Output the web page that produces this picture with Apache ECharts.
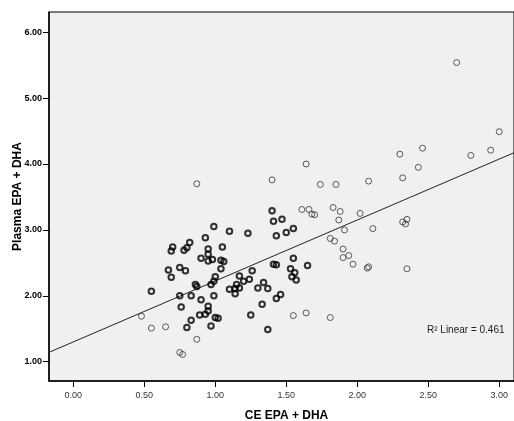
<!DOCTYPE html>
<html>
<head>
<meta charset="utf-8">
<script src="https://cdn.jsdelivr.net/npm/echarts@6/dist/echarts.min.js"></script>
<style>
html,body{margin:0;padding:0;background:#fff;}
#c{width:514px;height:421px;}
</style>
</head>
<body>
<div id="c"></div>
<script>
// CE EPA + DHA (x) and Plasma EPA + DHA (y), points drawn with thin outline
const thinX = [2.70,3.00,2.30,2.46,2.80,2.94,2.43,2.32,2.08,1.85,1.74,1.64,1.40,0.87,1.83,1.88,2.02,1.87,1.91,2.11,2.32,2.35,2.34,1.81,1.84,1.90,1.90,1.94,1.97,2.07,2.08,2.35,1.61,1.66,1.68,1.70,1.55,1.64,1.81,0.48,0.55,0.65,0.87,0.75,0.77];
const thinY = [5.54,4.49,4.15,4.24,4.13,4.21,3.95,3.79,3.74,3.69,3.69,4.00,3.76,3.70,3.34,3.28,3.25,3.15,3.00,3.02,3.12,3.16,3.09,2.87,2.83,2.71,2.58,2.61,2.48,2.42,2.44,2.41,3.31,3.31,3.24,3.23,1.70,1.74,1.67,1.69,1.51,1.53,1.34,1.14,1.11];
// points drawn with heavy outline
const boldX = [1.40,1.41,1.47,1.55,1.50,1.43,1.10,1.23,0.99,0.93,1.05,0.70,0.69,0.82,0.80,0.78,0.95,0.95,0.90,0.95,0.98,1.04,1.06,1.55,1.41,1.43,1.53,1.65,1.56,1.54,1.57,1.04,1.26,1.17,1.24,1.20,1.15,1.10,1.14,1.17,1.14,1.34,1.30,1.37,1.46,1.43,1.33,1.25,1.37,0.67,0.75,0.79,0.69,1.00,0.99,0.97,0.86,0.87,0.55,0.75,0.83,0.90,0.99,0.76,0.95,0.95,0.89,0.93,1.00,1.02,0.83,0.80,0.97];
const boldY = [3.29,3.13,3.16,3.02,2.96,2.91,2.98,2.95,3.05,2.88,2.74,2.74,2.68,2.81,2.73,2.69,2.71,2.63,2.57,2.53,2.55,2.54,2.52,2.57,2.48,2.47,2.41,2.46,2.35,2.29,2.24,2.41,2.38,2.30,2.25,2.22,2.17,2.10,2.11,2.12,2.03,2.20,2.12,2.11,2.02,1.96,1.87,1.71,1.49,2.39,2.43,2.38,2.28,2.29,2.22,2.17,2.17,2.14,2.07,2.00,2.00,1.94,2.00,1.83,1.84,1.77,1.71,1.72,1.67,1.66,1.63,1.52,1.54];
// fit line
const fitIntercept = 1.30;
const fitSlope = 0.925;
const r2Text = 'R\u00b2 Linear = 0.461';
// ticks
const xTicks = [0, 0.5, 1.0, 1.5, 2.0, 2.5, 3.0];
const yTicks = [1, 2, 3, 4, 5, 6];

const xMin = -0.171, xMax = 3.104, yMin = 0.707, yMax = 6.307;
const FONT = '"Liberation Sans", Arial, sans-serif';

const thinData = thinX.map((x, i) => [x, thinY[i]]);
const boldData = boldX.map((x, i) => [x, boldY[i]]);
const lineData = [[xMin, fitIntercept + fitSlope * xMin], [xMax, fitIntercept + fitSlope * xMax]];

const chart = echarts.init(document.getElementById('c'), null, {renderer: 'canvas'});
chart.setOption({
  animation: false,
  backgroundColor: '#ffffff',
  grid: {left: 49, top: 12, right: 0, bottom: 40, containLabel: false, outerBoundsMode: 'none',
    show: true, backgroundColor: '#f0f0f0', borderColor: '#000', borderWidth: 1},
  xAxis: {
    type: 'value', min: xMin, max: xMax,
    name: 'CE EPA + DHA', nameLocation: 'middle', nameGap: 29, nameMoveOverlap: false,
    nameTextStyle: {fontFamily: FONT, fontWeight: 'bold', fontSize: 12, color: '#000', padding: [0, 0, 0, 10]},
    axisLine: {show: true, onZero: false, lineStyle: {color: '#000', width: 1.5}},
    axisTick: {show: true, customValues: xTicks, length: 6, lineStyle: {color: '#000'}},
    axisLabel: {customValues: xTicks, fontFamily: FONT, fontSize: 9, color: '#333', margin: 10,
      formatter: v => v.toFixed(2)},
    splitLine: {show: false}
  },
  yAxis: {
    type: 'value', min: yMin, max: yMax,
    name: 'Plasma EPA + DHA', nameLocation: 'middle', nameGap: 25, nameMoveOverlap: false,
    nameTextStyle: {fontFamily: FONT, fontWeight: 'bold', fontSize: 12, color: '#000'},
    axisLine: {show: true, onZero: false, lineStyle: {color: '#000', width: 1.5}},
    axisTick: {show: true, customValues: yTicks, length: 6, lineStyle: {color: '#000'}},
    axisLabel: {customValues: yTicks, fontFamily: FONT, fontSize: 9, fontWeight: 'bold', color: '#000', margin: 7,
      formatter: v => v.toFixed(2)},
    splitLine: {show: false}
  },
  series: [
    {type: 'line', data: lineData, symbol: 'none', silent: true,
      lineStyle: {color: '#222', width: 1}, z: 1},
    {type: 'scatter', data: thinData, symbol: 'circle', symbolSize: 6,
      itemStyle: {color: 'rgba(0,0,0,0)', borderColor: '#333', borderWidth: 1}, z: 2},
    {type: 'scatter', data: boldData, symbol: 'circle', symbolSize: 5.5,
      itemStyle: {color: 'rgba(0,0,0,0)', borderColor: '#000', borderWidth: 2}, z: 3}
  ],
  graphic: [{
    type: 'text', left: 427, top: 325,
    style: {text: r2Text, fontFamily: FONT, fontSize: 10, fill: '#222'}
  }]
});
</script>
</body>
</html>
